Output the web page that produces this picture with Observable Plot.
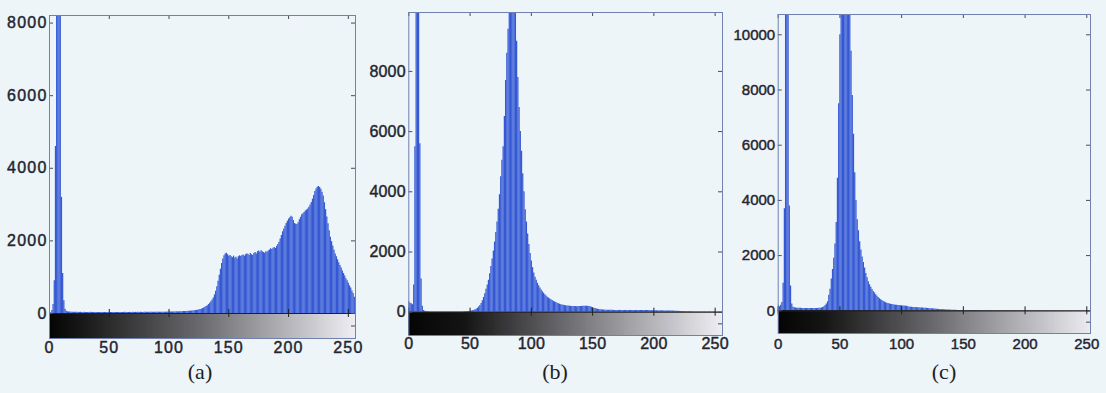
<!DOCTYPE html>
<html><head><meta charset="utf-8">
<script src="https://cdn.jsdelivr.net/npm/d3@7"></script>
<script src="https://cdn.jsdelivr.net/npm/@observablehq/plot@0.6"></script>
<style>
html,body{margin:0;padding:0;background:#edf5f9;}
#wrap{position:relative;width:1106px;height:393px;overflow:hidden;background:#edf5f9;}
.panel{position:absolute;top:0;}
.panel [aria-label$="tick label"]{stroke:#2a2a33;stroke-width:0.45px;}
.cap{position:absolute;top:359px;font-family:"Liberation Serif","DejaVu Serif",serif;font-size:22px;color:#1e1e1e;transform:translateX(-50%);}
</style></head><body><div id="wrap"></div>
<script>
// grey levels 0..255 (histogram bins)
const levels = d3.range(256);
const xTicks = [0, 50, 100, 150, 200, 250];
const yTicksA = [0, 2000, 4000, 6000, 8000];
const yTicksB = [0, 2000, 4000, 6000, 8000];
const yTicksC = [0, 2000, 4000, 6000, 8000, 10000];
const captions = ["(a)", "(b)", "(c)"];

const countsA = [
  0, 20, 80, 250, 900, 4600, 9000, 10000, 9500, 8600, 3200, 1100, 350, 120, 60, 45,
  40, 38, 35, 36, 34, 33, 35, 32, 30, 31, 33, 30, 29, 31, 30, 28,
  30, 29, 31, 28, 30, 29, 27, 30, 28, 29, 30, 27, 28, 30, 29, 28,
  27, 29, 30, 28, 27, 29, 28, 30, 29, 27, 28, 30, 29, 28, 30, 31,
  29, 30, 28, 31, 30, 29, 31, 30, 32, 29, 31, 30, 32, 31, 30, 33,
  31, 32, 30, 33, 32, 31, 34, 33, 32, 35, 33, 34, 36, 35, 34, 37,
  36, 38, 37, 39, 40, 38, 41, 42, 40, 43, 45, 44, 46, 48, 47, 50,
  52, 54, 56, 58, 60, 62, 65, 68, 72, 76, 80, 86, 92, 100, 110, 120,
  135, 150, 170, 190, 215, 245, 280, 320, 370, 430, 510, 610, 740, 890, 1050, 1220,
  1380, 1500, 1590, 1640, 1660, 1620, 1580, 1600, 1560, 1540, 1580, 1520, 1550, 1500, 1560, 1590,
  1570, 1600, 1610, 1580, 1620, 1640, 1630, 1600, 1650, 1620, 1600, 1650, 1680, 1640, 1700, 1720,
  1690, 1730, 1700, 1680, 1660, 1700, 1690, 1720, 1750, 1780, 1760, 1800, 1820, 1790, 1850, 1900,
  1960, 2050, 2150, 2250, 2330, 2400, 2480, 2540, 2600, 2640, 2680, 2650, 2560, 2480, 2460, 2450,
  2500, 2580, 2650, 2720, 2750, 2780, 2820, 2850, 2880, 2930, 2990, 3060, 3150, 3250, 3360, 3430,
  3480, 3500, 3470, 3420, 3340, 3240, 3050, 2860, 2660, 2470, 2280, 2100, 1980, 1860, 1740, 1640,
  1560, 1480, 1400, 1320, 1250, 1170, 1100, 1030, 960, 900, 830, 760, 700, 620, 550, 450
];

const countsB = [
  350, 300, 280, 250, 900, 5500, 11000, 12000, 11500, 5600, 1100, 200, 60, 30, 20, 15,
  12, 10, 10, 9, 8, 8, 7, 7, 6, 6, 6, 5, 5, 5, 5, 5,
  5, 5, 5, 5, 5, 6, 6, 6, 7, 7, 8, 9, 10, 12, 14, 17,
  20, 25, 30, 38, 48, 60, 78, 100, 130, 170, 220, 290, 380, 490, 610, 760,
  900, 1060, 1280, 1520, 1770, 2030, 2330, 2650, 3000, 3420, 3900, 4500, 5050, 5500, 6500, 7700,
  8600, 9400, 10200, 11000, 11800, 12000, 11200, 10300, 9000, 7800, 6800, 6000, 5350, 4600, 4000, 3400,
  3000, 2600, 2250, 1950, 1700, 1480, 1300, 1160, 1060, 960, 880, 800, 740, 680, 630, 580,
  540, 500, 470, 440, 410, 385, 360, 340, 320, 300, 280, 265, 250, 240, 230, 222,
  215, 210, 205, 200, 196, 192, 190, 188, 186, 185, 186, 188, 190, 192, 195, 198,
  200, 198, 195, 190, 180, 165, 150, 135, 120, 108, 98, 90, 84, 78, 74, 70,
  68, 66, 64, 63, 62, 62, 61, 60, 60, 60, 59, 60, 61, 60, 59, 60,
  58, 60, 59, 58, 60, 57, 58, 59, 56, 57, 58, 56, 55, 57, 56, 55,
  54, 55, 56, 54, 53, 52, 50, 52, 48, 46, 47, 45, 44, 46, 45, 43,
  42, 44, 41, 40, 42, 39, 38, 40, 37, 35, 33, 30, 28, 26, 24, 22,
  20, 18, 16, 15, 14, 13, 12, 11, 10, 9, 9, 8, 8, 7, 7, 6,
  6, 5, 5, 5, 4, 4, 4, 3, 3, 3, 3, 2, 2, 2, 2, 2
];

const countsC = [
  200, 150, 200, 300, 1000, 3700, 12000, 13000, 12000, 3800, 900, 250, 130, 110, 100, 95,
  92, 90, 88, 86, 85, 84, 83, 82, 82, 81, 80, 80, 80, 81, 82, 84,
  86, 90, 96, 105, 120, 150, 190, 250, 330, 560, 780, 1150, 1500, 1900, 2420, 3200,
  4800, 7500, 10000, 12500, 14000, 15500, 16000, 15000, 14000, 12500, 11000, 9400, 7800, 6400, 5000, 4000,
  3300, 2900, 2500, 2200, 1950, 1750, 1550, 1350, 1200, 1050, 940, 850, 770, 700, 640, 580,
  530, 480, 440, 400, 370, 340, 315, 295, 275, 260, 250, 240, 230, 220, 210, 205,
  200, 195, 190, 185, 180, 175, 170, 165, 160, 150, 140, 130, 125, 120, 118, 115,
  112, 110, 107, 105, 102, 98, 95, 92, 90, 86, 82, 78, 74, 70, 66, 62,
  58, 54, 50, 47, 44, 40, 37, 34, 31, 28, 26, 24, 22, 20, 18, 17,
  15, 14, 13, 12, 12, 11, 10, 10, 9, 9, 8, 8, 7, 7, 7, 6,
  6, 6, 6, 5, 5, 5, 5, 5, 4, 4, 4, 4, 4, 4, 3, 3,
  3, 3, 3, 3, 3, 3, 3, 3, 3, 2, 2, 2, 2, 2, 2, 2,
  2, 2, 2, 2, 2, 2, 2, 2, 2, 2, 2, 2, 2, 2, 2, 2,
  2, 2, 2, 2, 1, 1, 1, 1, 1, 1, 1, 1, 1, 1, 1, 1,
  1, 1, 1, 1, 1, 1, 1, 1, 1, 1, 1, 1, 1, 1, 1, 1,
  1, 1, 1, 1, 1, 1, 1, 1, 1, 1, 1, 1, 1, 1, 1, 1
];

const panels = [
  {counts: countsA, yticks: yTicksA, caption: captions[0], left: 0, width: 370, ml: 49, mr: 15, mt: 15, mb: 25, h: 363,
   xmax: 256, ymax: 8209, ymin: -689, font: 16, spacing: 1.2, padX: 3, padY: 2, dark: 22, capX: 200},
  {counts: countsB, yticks: yTicksB, caption: captions[1], left: 360, width: 376, ml: 48.3, mr: 14, mt: 12, mb: 25, h: 360,
   xmax: 256, ymax: 9957, ymin: -774, font: 16, spacing: 0.2, padX: 2, padY: 3, dark: 45, capX: 555},
  {counts: countsC, yticks: yTicksC, caption: captions[2], left: 726, width: 380, ml: 51.7, mr: 16, mt: 14, mb: 25, h: 358,
   xmax: 253, ymax: 10736, ymin: -823, font: 15, spacing: 0, padX: 5, padY: 3, dark: 36, capX: 944}
];

const wrap = document.getElementById("wrap");
const tickColor = "#4a4a55";

for (const p of panels) {
  const pw = p.width - p.ml - p.mr;
  const ph = p.h - p.mt - p.mb;
  const kx = pw / p.xmax;
  const ky = ph / (p.ymax - p.ymin);
  const tx = 4 / kx, ty = 4 / ky;
  const gray = d3.scaleLinear().domain([0, p.dark, 128, 255])
    .range(["#050505", "#141414", "#6c6c70", "#ededf3"]);
  const data = p.counts.map((c, i) => ({bin: levels[i], count: c}));
  const chart = Plot.plot({
    width: p.width, height: p.h,
    marginLeft: p.ml, marginRight: p.mr, marginTop: p.mt, marginBottom: p.mb,
    x: {domain: [0, p.xmax]},
    y: {domain: [p.ymin, p.ymax]},
    style: {background: "transparent", fontFamily: "'Liberation Sans', Arial, sans-serif", fontSize: p.font + "px",
            color: "#22222c", letterSpacing: p.spacing + "px", overflow: "visible"},
    marks: [
      Plot.rect(levels, {x1: d => d, x2: d => d + 1, y1: p.ymin, y2: 0, fill: d => gray(d),
                         insetRight: -0.8, shapeRendering: "crispEdges", clip: true}),
      Plot.ruleX(data, {x: "bin", y1: 0, y2: d => Math.min(d.count, p.ymax), stroke: "#3559d4", strokeWidth: 1.25, clip: true}),
      Plot.ruleY([0], {stroke: "#202020", strokeWidth: 1.2}),
      Plot.ruleY(p.yticks, {y: d => d, x1: 0, x2: tx, stroke: tickColor}),
      Plot.ruleY(p.yticks, {y: d => d, x1: p.xmax - tx, x2: p.xmax, stroke: tickColor}),
      Plot.ruleX(xTicks, {x: d => d, y1: p.ymax - ty, y2: p.ymax, stroke: tickColor}),
      Plot.ruleX(xTicks, {x: d => d, y1: -ty, y2: ty, stroke: "#202020"}),
      Plot.ruleY([p.ymin / 2], {x1: p.xmax - tx, x2: p.xmax, stroke: tickColor}),
      Plot.frame({stroke: "#7080b0"}),
      Plot.axisY({ticks: p.yticks, tickFormat: d => String(d), tickSize: 0, tickPadding: p.padY, label: null, fontSize: p.font}),
      Plot.axisX({ticks: xTicks, tickFormat: d => String(d), tickSize: 0, tickPadding: p.padX, label: null, fontSize: p.font})
    ]
  });
  chart.classList.add("panel");
  chart.style.left = p.left + "px";
  chart.style.position = "absolute";
  wrap.appendChild(chart);
  const cap = document.createElement("div");
  cap.className = "cap";
  cap.style.left = p.capX + "px";
  cap.textContent = p.caption;
  wrap.appendChild(cap);
}
</script>
</body></html>
